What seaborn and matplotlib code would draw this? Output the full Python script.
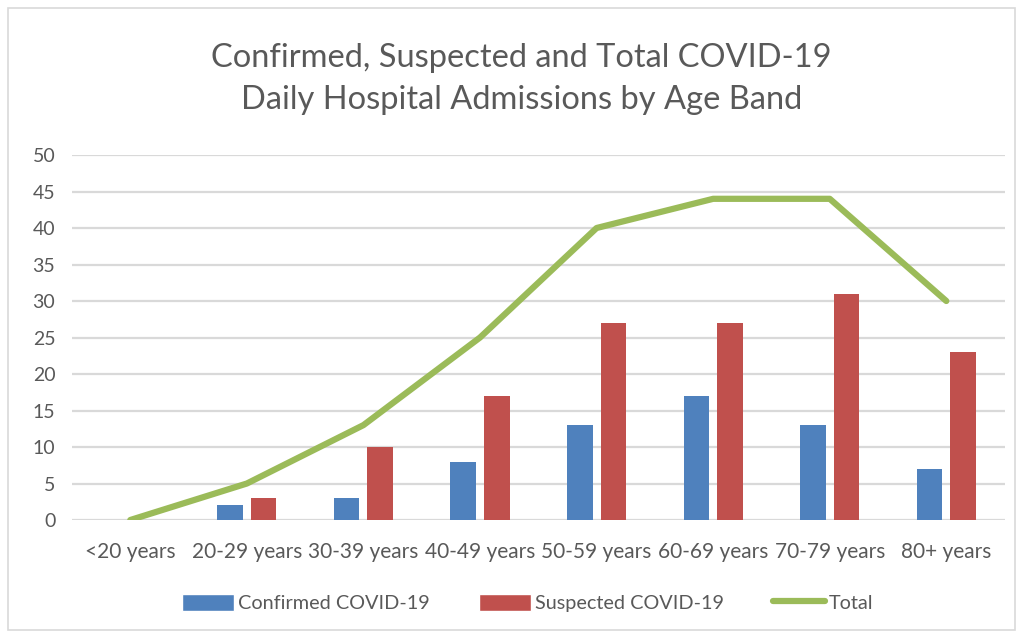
import matplotlib
matplotlib.use("Agg")
import matplotlib.pyplot as plt
import seaborn as sns
import pandas as pd
from matplotlib.patches import Patch, Rectangle
from matplotlib.lines import Line2D

categories = ["<20 years", "20-29 years", "30-39 years", "40-49 years",
              "50-59 years", "60-69 years", "70-79 years", "80+ years"]
confirmed = [0, 2, 3, 8, 13, 17, 13, 7]
suspected = [0, 3, 10, 17, 27, 27, 31, 23]
total = [0, 5, 13, 25, 40, 44, 44, 30]
series_names = ["Confirmed COVID-19", "Suspected COVID-19", "Total"]
yticks = [0, 5, 10, 15, 20, 25, 30, 35, 40, 45, 50]

BLUE = "#4F81BD"
RED = "#C0504D"
GREEN = "#9BBB59"
GRID = "#D9D9D9"
TXT = "#595959"

sns.set_theme(style="white")
plt.rcParams["font.family"] = ["Lato", "DejaVu Sans"]

df = pd.DataFrame({
    "Age": categories * 2,
    "Value": confirmed + suspected,
    "Series": [series_names[0]] * len(categories) + [series_names[1]] * len(categories),
})

fig = plt.figure(figsize=(10.23, 6.34), dpi=100)
ax = fig.add_axes([0.0704, 0.1798, 0.9116, 0.5757])

ax.set_axisbelow(True)
for t in yticks:
    ax.axhline(t, color=GRID, lw=1.6, zorder=0)

sns.barplot(data=df, x="Age", y="Value", hue="Series", order=categories,
            hue_order=series_names[:2], palette=[BLUE, RED],
            width=0.575, gap=0.237, ax=ax, legend=False, saturation=1,
            edgecolor="none", zorder=2)

sns.lineplot(x=categories, y=total, color=GREEN, lw=4.5, ax=ax, zorder=3,
             solid_capstyle="round", solid_joinstyle="round", sort=False)

ax.set_xlim(-0.5, len(categories) - 0.5)
ax.set_ylim(0, 50)
ax.set_yticks(yticks)
ax.set_xlabel("")
ax.set_ylabel("")
for s in ax.spines.values():
    s.set_visible(False)
ax.tick_params(axis="y", length=0, pad=12, labelsize=14, labelcolor=TXT)
ax.tick_params(axis="x", length=0, pad=16, labelsize=15, labelcolor=TXT)

fig.text(0.51, 0.875, "Confirmed, Suspected and Total COVID-19\nDaily Hospital Admissions by Age Band",
         ha="center", va="center", fontsize=23.5, color=TXT, linespacing=1.5)

handles = [Patch(facecolor=BLUE), Patch(facecolor=RED),
           Line2D([0], [0], color=GREEN, lw=4.5, solid_capstyle="round")]
fig.legend(handles, series_names, loc="center", bbox_to_anchor=(0.516, 0.049),
           ncol=3, frameon=False, fontsize=14.3, labelcolor=TXT,
           handlelength=2.6, handleheight=1.0, handletextpad=0.2, columnspacing=2.5)

fig.patches.append(Rectangle((0.008, 0.006), 0.984, 0.982, transform=fig.transFigure,
                             fill=False, edgecolor="#D9D9D9", lw=1.2))

fig.savefig("out.png", dpi=100)
